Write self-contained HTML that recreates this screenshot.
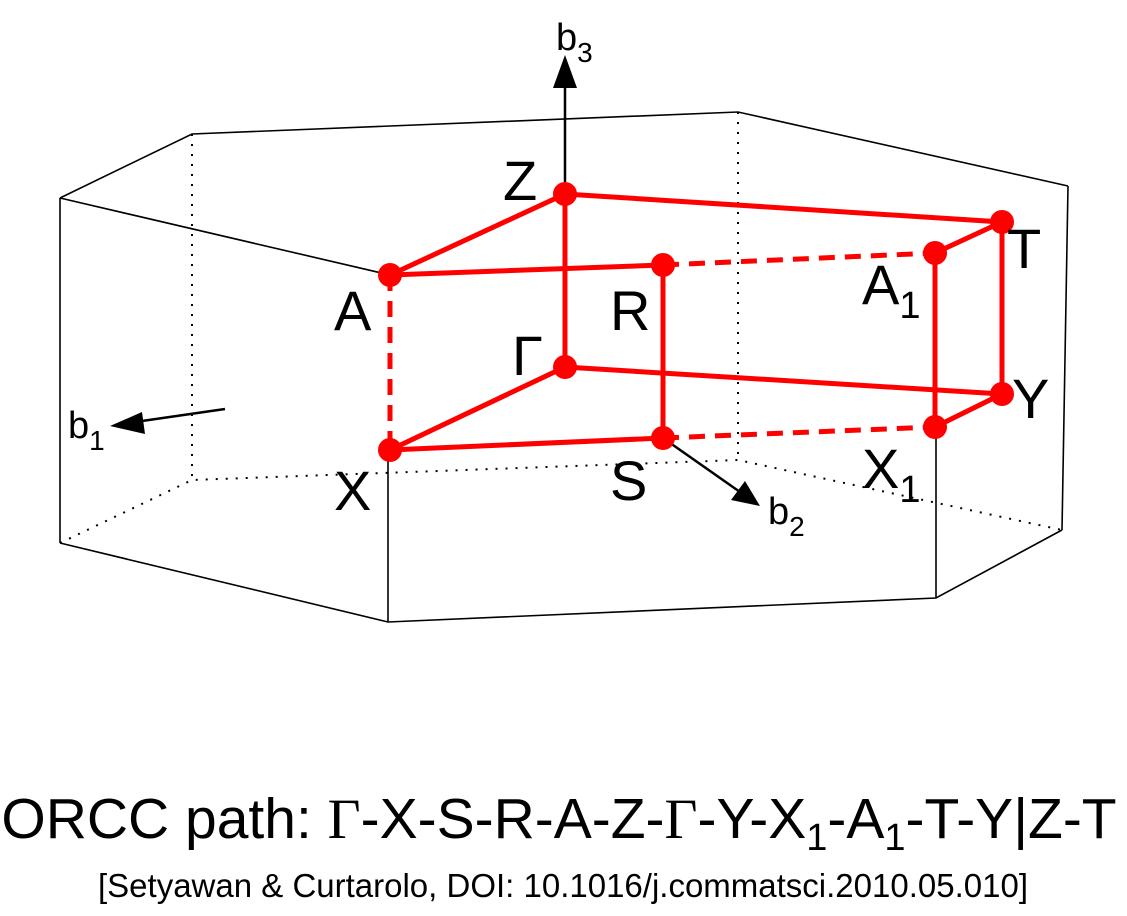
<!DOCTYPE html>
<html><head><meta charset="utf-8"><style>
html,body{margin:0;padding:0;background:#fff;}
svg{display:block;}
text{font-family:"Liberation Sans",sans-serif;fill:#000;}
</style></head><body>
<svg width="1127" height="916" viewBox="0 0 1127 916" xmlns="http://www.w3.org/2000/svg">
<g stroke="#000" stroke-width="1.6" fill="none">
<polyline points="60,198 192,134 738,112 1068,186"/>
<line x1="60" y1="198" x2="390" y2="275"/>
<line x1="1068" y1="186" x2="1062" y2="530"/>
<line x1="60" y1="198" x2="60" y2="543"/>
<polyline points="60,543 388,622 936,598 1062,530"/>
<line x1="388" y1="455" x2="388" y2="622"/>
<line x1="936" y1="430" x2="936" y2="598"/>
</g>
<g stroke="#000" stroke-width="2" fill="none" stroke-dasharray="2,8">
<line x1="192" y1="134" x2="192" y2="480"/>
<line x1="738" y1="112" x2="738" y2="460"/>
<polyline points="60,543 192,480 738,460 1062,530"/>
</g>
<g stroke="#000" stroke-width="2.5">
<line x1="565" y1="194" x2="565" y2="85"/>
<line x1="225" y1="409" x2="135" y2="422"/>
<line x1="663" y1="438" x2="740" y2="492"/>
</g>
<polygon points="565,55 553,88 577,88" fill="#000"/>
<polygon points="110,426 142,412 145,434" fill="#000"/>
<polygon points="760,506 731,500 745,481" fill="#000"/>
<g stroke="#f00" stroke-width="5" fill="none">
<line x1="565" y1="194" x2="390" y2="275"/>
<line x1="565" y1="194" x2="1002" y2="222"/>
<line x1="390" y1="275" x2="663" y2="265"/>
<line x1="935" y1="253" x2="1002" y2="222"/>
<line x1="1002" y1="222" x2="1002" y2="394"/>
<line x1="935" y1="253" x2="935" y2="427"/>
<line x1="565" y1="194" x2="565" y2="367"/>
<line x1="565" y1="367" x2="1002" y2="394"/>
<line x1="565" y1="367" x2="390" y2="450"/>
<line x1="390" y1="450" x2="663" y2="438"/>
<line x1="935" y1="427" x2="1002" y2="394"/>
<line x1="663" y1="265" x2="663" y2="438"/>
</g>
<g stroke="#f00" stroke-width="5" fill="none" stroke-dasharray="16,10">
<line x1="663" y1="265" x2="935" y2="253"/>
<line x1="663" y1="438" x2="935" y2="427"/>
<line x1="390" y1="275" x2="390" y2="450"/>
</g>
<g fill="#f00">
<circle cx="565" cy="194" r="12"/><circle cx="390" cy="275" r="12"/>
<circle cx="663" cy="265" r="12"/><circle cx="935" cy="253" r="12"/>
<circle cx="1002" cy="222" r="12"/><circle cx="565" cy="367" r="12"/>
<circle cx="1002" cy="394" r="12"/><circle cx="390" cy="450" r="12"/>
<circle cx="663" cy="438" r="12"/><circle cx="935" cy="427" r="12"/>
</g>
<g font-size="56">
<text x="503" y="200">Z</text>
<text x="334" y="330">A</text>
<text x="610" y="330">R</text>
<text x="862" y="304">A<tspan font-size="38" dy="14">1</tspan></text>
<text x="1007" y="268">T</text>
<text x="512" y="375" font-family="Liberation Serif">Γ</text>
<text x="1012" y="418">Y</text>
<text x="334" y="510">X</text>
<text x="610" y="500">S</text>
<text x="862" y="488">X<tspan font-size="38" dy="14">1</tspan></text>
</g>
<g font-size="38">
<text x="556" y="50">b<tspan font-size="28" dy="12">3</tspan></text>
<text x="68" y="438">b<tspan font-size="28" dy="12">1</tspan></text>
<text x="768" y="524">b<tspan font-size="28" dy="12">2</tspan></text>
</g>
<text x="559" y="838" font-size="57" text-anchor="middle">ORCC path: <tspan font-family="Liberation Serif">Γ</tspan>-X-S-R-A-Z-<tspan font-family="Liberation Serif">Γ</tspan>-Y-X<tspan font-size="38" dy="12">1</tspan><tspan dy="-12">-A</tspan><tspan font-size="38" dy="12">1</tspan><tspan dy="-12">-T-Y|Z-T</tspan></text>
<text x="563" y="897" font-size="33" text-anchor="middle">[Setyawan &amp; Curtarolo, DOI: 10.1016/j.commatsci.2010.05.010]</text>
</svg>
</body></html>
